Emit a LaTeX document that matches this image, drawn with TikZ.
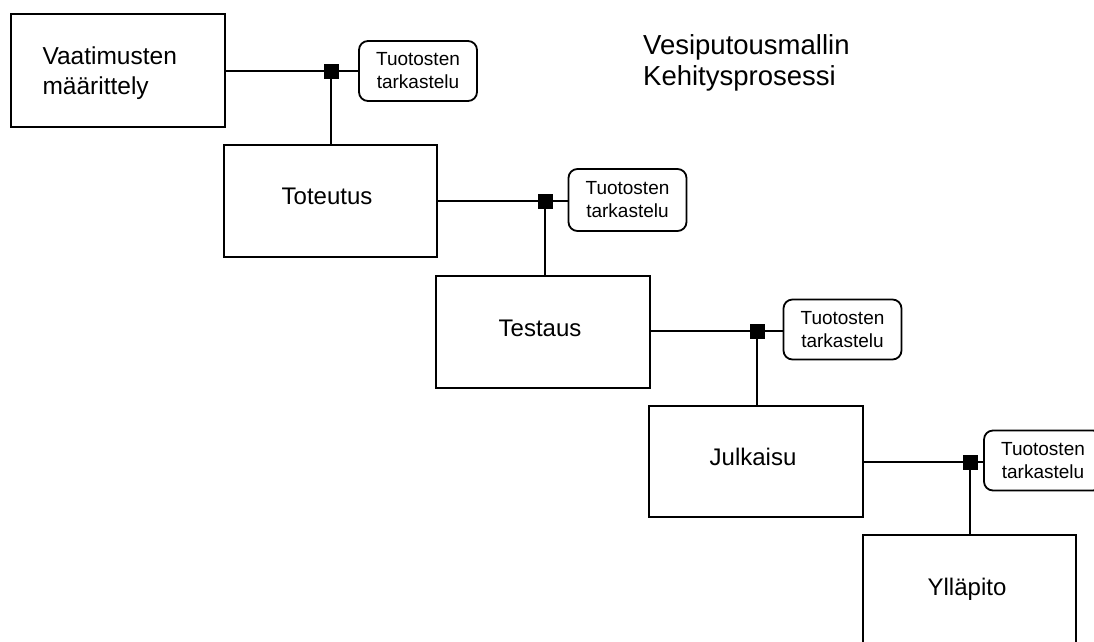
\documentclass[tikz,border=0pt]{standalone}
\usepackage{fontspec}
\setmainfont{Liberation Sans}
\begin{document}
\begin{tikzpicture}[x=1pt,y=-1pt,
  phase/.style={draw=black,line width=2pt,fill=white,inner sep=0pt,minimum width=213pt,minimum height=112pt,font=\fontsize{24}{29}\selectfont},
  review/.style={draw=black,line width=1.8pt,rounded corners=9pt,fill=white,inner sep=0pt,minimum width=118pt,minimum height=60pt,align=center,font=\fontsize{19}{23}\selectfont},
  junction/.style={fill=black,inner sep=0pt,minimum size=15pt},
  conn/.style={line width=2pt}]
\useasboundingbox (0,0) rectangle (1094,641);
\clip (0,0) rectangle (1094,641);
\fill[white] (0,0) rectangle (1094,641);
% phases
\node[phase,minimum width=214pt,minimum height=113pt] (p1) at (118,70.5) {};
\node[anchor=west,align=left,font=\fontsize{24.5}{30}\selectfont] (p1t) at (39,73) {Vaatimusten\\määrittely};
\node[phase] (p2) at (330.5,201) {};
\node[font=\fontsize{24}{29}\selectfont] (p2t) at (327,196) {Toteutus};
\node[phase,minimum width=214pt] (p3) at (543,332) {};
\node[font=\fontsize{24}{29}\selectfont] (p3t) at (540,328) {Testaus};
\node[phase,minimum width=214pt,minimum height=111pt] (p4) at (756,461.5) {};
\node[font=\fontsize{24}{29}\selectfont] (p4t) at (753,457) {Julkaisu};
\node[phase] (p5) at (969.5,591) {};
\node[font=\fontsize{24}{29}\selectfont] (p5t) at (967,589) {Ylläpito};
% reviews
\node[review] (r1) at (418,71) {Tuotosten\\tarkastelu};
\node[review,minimum height=62pt] (r2) at (627.5,200) {Tuotosten\\tarkastelu};
\node[review] (r3) at (842.5,329.5) {Tuotosten\\tarkastelu};
\node[review] (r4) at (1043,460.5) {Tuotosten\\tarkastelu};
% junctions
\coordinate (j1) at (331,71);
\coordinate (j2) at (545,201);
\coordinate (j3) at (757,331);
\coordinate (j4) at (970,462);
\draw[conn] (p1.east |- j1) -- (r1.west |- j1);
\draw[conn] (j1) -- (j1 |- p2.north);
\draw[conn] (p2.east |- j2) -- (r2.west |- j2);
\draw[conn] (j2) -- (j2 |- p3.north);
\draw[conn] (p3.east |- j3) -- (r3.west |- j3);
\draw[conn] (j3) -- (j3 |- p4.north);
\draw[conn] (p4.east |- j4) -- (r4.west |- j4);
\draw[conn] (j4) -- (j4 |- p5.north);
\node[junction] (s1) at (j1) {};
\node[junction] (s2) at (j2) {};
\node[junction] (s3) at (j3) {};
\node[junction] (s4) at (j4) {};
% title
\node[anchor=north west,align=left,inner sep=0pt,font=\fontsize{27.5}{31}\selectfont] (title) at (643,34) {Vesiputousmallin\\Kehitysprosessi};
\end{tikzpicture}
\end{document}
